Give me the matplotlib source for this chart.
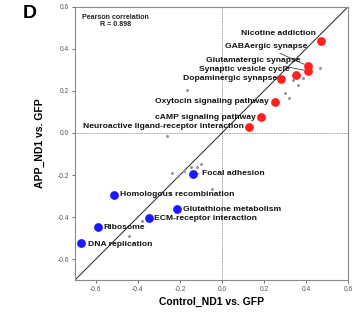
"""
Scatter of KEGG pathway fold changes: Control_ND1 vs. GFP against APP_ND1 vs. GFP.
Values read off the published panel D.
"""

import matplotlib.pyplot as plt

plt.rcParams["font.family"] = ["Liberation Sans", "DejaVu Sans"]

# highlighted up-regulated pathways (red)
UP_NAMES = [
    "Nicotine addiction",
    "GABAergic synapse",
    "Glutamatergic synapse",
    "Synaptic vesicle cycle",
    "Dopaminergic synapse",
    "Oxytocin signaling pathway",
    "cAMP signaling pathway",
    "Neuroactive ligand-receptor interaction",
]
UP_X = [0.471, 0.410, 0.410, 0.352, 0.281, 0.252, 0.186, 0.129]
UP_Y = [0.438, 0.319, 0.295, 0.276, 0.257, 0.148, 0.076, 0.029]

# highlighted down-regulated pathways (blue)
DOWN_NAMES = [
    "Focal adhesion",
    "Homologous recombination",
    "Glutathione metabolism",
    "ECM-receptor interaction",
    "Ribosome",
    "DNA replication",
]
DOWN_X = [-0.138, -0.514, -0.214, -0.348, -0.590, -0.671]
DOWN_Y = [-0.195, -0.295, -0.362, -0.405, -0.448, -0.524]

# other pathways (grey)
OTHER_X = [-0.167, 0.467, 0.338, 0.386, 0.362, 0.300, 0.319, -0.262,
           -0.238, -0.210, -0.181, -0.148, -0.119, -0.100, -0.048, -0.248,
           -0.381, -0.443]
OTHER_Y = [0.205, 0.310, 0.252, 0.262, 0.229, 0.190, 0.167, -0.014,
           -0.190, -0.205, -0.181, -0.162, -0.162, -0.148, -0.267, -0.286,
           -0.419, -0.490]

PEARSON_R = 0.898

TICKS = [-0.6, -0.4, -0.2, 0.0, 0.2, 0.4, 0.6]

# label offsets in pixels (layout only) and whether a leader line is drawn
UP_OFFSETS = [(-5, 7), (-1, 19), (-8, 11), (-6, 5), (-4, 0), (-6, 0), (-5, 0), (-5, 0)]
UP_LEADER = [False, True, True, False, False, False, False, False]
DOWN_OFFSETS = [(9, 0), (6, 0), (6, 0), (5, 0), (5, 0), (7, -1)]
DOWN_LEADER = [True, False, False, False, False, False]

SPINE_GREY = "#8a8a8a"


def label_points(ax, names, xs, ys, offsets, leaders, align):
    for name, x, y, off, leader in zip(names, xs, ys, offsets, leaders):
        arrow = None
        if leader:
            arrow = dict(arrowstyle="-", color="#222222", lw=0.5,
                         shrinkA=0, shrinkB=3)
        ax.annotate(
            name,
            xy=(x, y),
            xytext=off,
            textcoords="offset pixels",
            ha=align,
            va="center",
            fontsize=6.1,
            fontweight="bold",
            color="#111111",
            arrowprops=arrow,
        )


def main():
    fig = plt.figure(figsize=(3.55, 3.14), dpi=100)
    ax = fig.add_axes([0.211, 0.108, 0.769, 0.870])

    ax.set_xlim(-0.7, 0.6)
    ax.set_ylim(-0.7, 0.6)

    ax.axhline(0, color="#777777", lw=0.6, ls=(0, (1, 1)), zorder=1)
    ax.axvline(0, color="#777777", lw=0.6, ls=(0, (1, 1)), zorder=1)
    ax.plot([-0.7, 0.6], [-0.7, 0.6], color="#222222", lw=0.7, zorder=2)

    ax.scatter(OTHER_X, OTHER_Y, s=5, color="#9a9a9a", linewidths=0, zorder=3)
    ax.scatter(UP_X, UP_Y, s=40, color="#ff2020", linewidths=0, zorder=4)
    ax.scatter(DOWN_X, DOWN_Y, s=40, color="#1a1aff", linewidths=0, zorder=4)

    label_points(ax, UP_NAMES, UP_X, UP_Y, UP_OFFSETS, UP_LEADER, "right")
    label_points(ax, DOWN_NAMES, DOWN_X, DOWN_Y, DOWN_OFFSETS, DOWN_LEADER, "left")

    ax.text(0.026, 0.975, f"Pearson correlation\nR = {PEARSON_R:.3f}",
            transform=ax.transAxes, ha="left", va="top", fontsize=5.1,
            fontweight="bold", color="#222222", linespacing=1.0,
            multialignment="center")

    ax.set_xticks(TICKS)
    ax.set_yticks(TICKS)
    ax.set_xticklabels([f"{t:.1f}" for t in TICKS])
    ax.set_yticklabels([f"{t:.1f}" for t in TICKS])
    ax.tick_params(labelsize=4.8, colors="#555555", length=2.5, width=0.6,
                   pad=1.5)

    for spine in ax.spines.values():
        spine.set_color(SPINE_GREY)
        spine.set_linewidth(0.8)

    ax.set_xlabel("Control_ND1 vs. GFP", fontsize=7.5, fontweight="bold",
                  labelpad=3)
    ax.set_ylabel("APP_ND1 vs. GFP", fontsize=7.5, fontweight="bold",
                  labelpad=9)

    fig.text(0.085, 0.957, "D", fontsize=14, fontweight="bold", ha="center",
             va="center")

    fig.savefig("out.png", dpi=100)


if __name__ == "__main__":
    main()
